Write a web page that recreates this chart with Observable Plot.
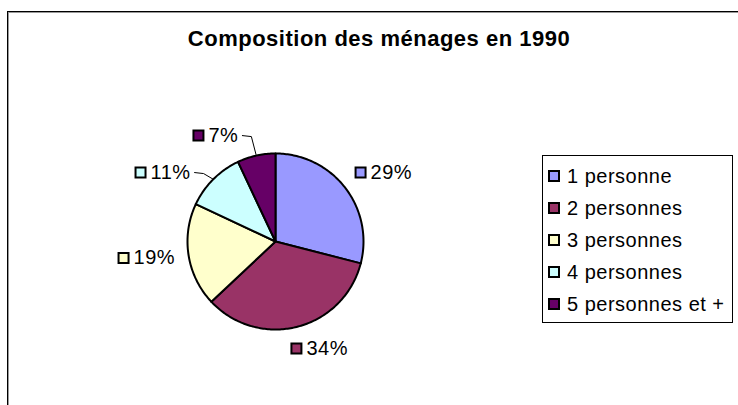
<!DOCTYPE html>
<html>
<head>
<meta charset="utf-8">
<script src="https://cdn.jsdelivr.net/npm/d3@7"></script>
<script src="https://cdn.jsdelivr.net/npm/@observablehq/plot@0.6"></script>
<style>
html, body { margin: 0; padding: 0; background: #fff; width: 738px; height: 405px; overflow: hidden; }
#frame { position: absolute; left: 7px; top: 11px; width: 800px; height: 460px; border: 1px solid #000; box-shadow: inset 1px 1px 0 #999; }
#chart { position: absolute; left: 0; top: 0; }
#chart text { letter-spacing: 0.5px; }
#title { position: absolute; left: 0; top: 28px; width: 758px; text-align: center; color: #000;
  font: bold 22px/22px "Liberation Sans", Arial, sans-serif; letter-spacing: 0.5px; }
#legend { position: absolute; left: 542px; top: 155px; width: 189px; height: 162px; padding: 4px 0 0 0;
  border: 1px solid #000; background: #fff; }
#legend .lg-swatches { font: 20px "Liberation Sans", Arial, sans-serif; letter-spacing: 0.5px; color: #000; margin: 0; min-height: 0; }
#legend .lg-swatch { display: flex; align-items: center; height: 32px; margin: 0 0 0 6px; padding: 0; }
#legend .lg-swatch svg { overflow: visible; margin-right: 8px; flex-shrink: 0; }
#legend .lg-swatch svg rect { stroke: #000; stroke-width: 2px; }
</style>
</head>
<body>
<div id="frame"></div>
<div id="chart"></div>
<div id="title">Composition des ménages en 1990</div>
<div id="legend"></div>
<script>
// ---- data ----
const categories = ["1 personne", "2 personnes", "3 personnes", "4 personnes", "5 personnes et +"];
const shares = [29, 34, 19, 11, 7];
const colors = ["#9999FF", "#993366", "#FFFFCC", "#CCFFFF", "#660066"];
const pctLabels = ["29%", "34%", "19%", "11%", "7%"];

// ---- layout ----
const W = 738, H = 405, CX = 275, CY = 241, RPX = 88;
const labelNudge = [[2.5, 1.8], [10.7, -5], [3, -1.6], [-17.5, 12.8], [-24.9, 6.9]];
const hasLeader = [false, false, false, true, true];
const FONT = '"Liberation Sans", Arial, sans-serif';

const arcs = d3.pie().sort(null).value(d => d)(shares);

// slice polygons in unit-radius coordinates
const slicePts = [];
arcs.forEach((a, i) => {
  const cat = categories[i];
  slicePts.push({cat, x: 0, y: 0});
  const n = Math.max(2, Math.ceil((a.endAngle - a.startAngle) / (Math.PI / 180)));
  for (let k = 0; k <= n; k++) {
    const t = a.startAngle + (a.endAngle - a.startAngle) * k / n;
    slicePts.push({cat, x: Math.sin(t), y: Math.cos(t)});
  }
});

const ctx = document.createElement("canvas").getContext("2d");
ctx.font = '20px "Liberation Sans"';
try { ctx.letterSpacing = "0.5px"; } catch (e) {}

const labelData = [];
const leaderPts = [];
arcs.forEach((a, i) => {
  const th = (a.startAngle + a.endAngle) / 2, s = Math.sin(th), c = Math.cos(th);
  const bw = 56, bh = 20;
  const px = CX + 1.2 * s * RPX + s * bw / 2 - bw / 2 + 5 + labelNudge[i][0];
  const py = CY - 1.2 * c * RPX - c * bh / 2 + labelNudge[i][1];
  labelData.push({cat: categories[i], text: pctLabels[i], x: (px - CX) / RPX, y: (CY - py) / RPX});
  if (hasLeader[i]) {
    const tw = ctx.measureText(pctLabels[i]).width;
    const sx = px + 10 + tw + 4;
    leaderPts.push({id: i, x: (sx - CX) / RPX, y: (CY - py) / RPX});
    leaderPts.push({id: i, x: (sx + 9 - CX) / RPX, y: (CY - py - 1) / RPX});
    leaderPts.push({id: i, x: s, y: c});
  }
});

const chart = Plot.plot({
  width: W, height: H, margin: 0,
  x: {domain: [-CX / RPX, (W - CX) / RPX], axis: null},
  y: {domain: [-(H - CY) / RPX, CY / RPX], axis: null},
  color: {domain: categories, range: colors},
  style: {background: "transparent", overflow: "visible", fontFamily: FONT},
  marks: [
    Plot.line(slicePts, {x: "x", y: "y", z: "cat", fill: "cat", stroke: "#000", strokeWidth: 2,
      curve: "linear-closed", strokeLinejoin: "round"}),
    Plot.line(leaderPts, {x: "x", y: "y", z: "id", stroke: "#000", strokeWidth: 1}),
    Plot.dot(labelData, {x: "x", y: "y", fill: "cat", symbol: "square", r: 5.64, stroke: "#000", strokeWidth: 2}),
    Plot.text(labelData, {x: "x", y: "y", text: "text", textAnchor: "start", dx: 10, fontSize: 20,
      fontFamily: FONT, fill: "#000"})
  ]
});
document.getElementById("chart").appendChild(chart);

const legend = Plot.legend({
  color: {type: "ordinal", domain: categories, range: colors},
  legend: "swatches", columns: 1, swatchSize: 10, className: "lg"
});
document.getElementById("legend").appendChild(legend);
</script>
</body>
</html>
